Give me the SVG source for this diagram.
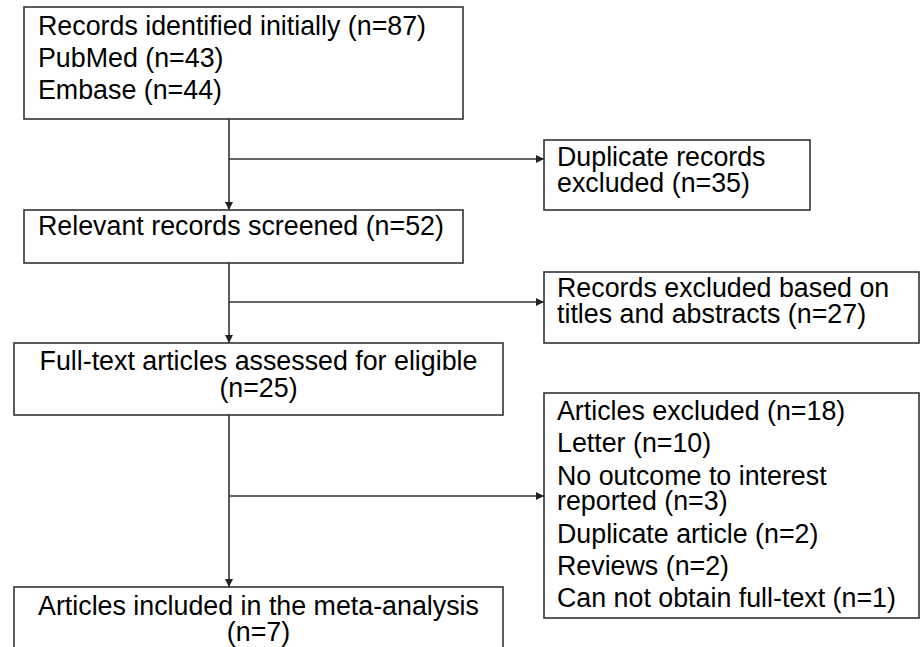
<svg xmlns="http://www.w3.org/2000/svg" width="920" height="647" viewBox="0 0 920 647">
<style>
.box{fill:#fff;stroke:#333;stroke-width:1.6}
.ln{fill:none;stroke:#333;stroke-width:1.6}
text{font-family:"Liberation Sans",Arial,sans-serif;font-size:26.8px;fill:#000}
.c{text-anchor:middle}
</style>
<defs>
<marker id="ah" viewBox="0 0 10 10" refX="10" refY="5" markerWidth="8" markerHeight="8" markerUnits="userSpaceOnUse" orient="auto">
<path d="M0,0 L10,5 L0,10 Z" fill="#222"/>
</marker>
</defs>
<rect width="920" height="647" fill="#fff"/>
<g id="connectors">
<line class="ln" x1="229" y1="119" x2="229" y2="210" marker-end="url(#ah)"/>
<line class="ln" x1="229" y1="159" x2="544" y2="159" marker-end="url(#ah)"/>
<line class="ln" x1="229" y1="263" x2="229" y2="343" marker-end="url(#ah)"/>
<line class="ln" x1="229" y1="302" x2="544" y2="302" marker-end="url(#ah)"/>
<line class="ln" x1="229" y1="415" x2="229" y2="587" marker-end="url(#ah)"/>
<line class="ln" x1="229" y1="496" x2="544" y2="496" marker-end="url(#ah)"/>
</g>
<g id="n1">
<rect class="box" x="24" y="7" width="439" height="112"/>
<text x="38" y="35">Records identified initially (n=87)</text>
<text x="38" y="67">PubMed (n=43)</text>
<text x="38" y="99">Embase (n=44)</text>
</g>
<g id="n2">
<rect class="box" x="544" y="140" width="266" height="70"/>
<text x="557" y="166">Duplicate records</text>
<text x="557" y="192">excluded (n=35)</text>
</g>
<g id="n3">
<rect class="box" x="24" y="210" width="439" height="53"/>
<text x="38" y="235">Relevant records screened (n=52)</text>
</g>
<g id="n4">
<rect class="box" x="544" y="272" width="375" height="71"/>
<text x="557" y="297">Records excluded based on</text>
<text x="557" y="323">titles and abstracts (n=27)</text>
</g>
<g id="n5">
<rect class="box" x="14" y="343" width="489" height="72"/>
<text class="c" x="258.5" y="370">Full-text articles assessed for eligible</text>
<text class="c" x="258.5" y="397">(n=25)</text>
</g>
<g id="n6">
<rect class="box" x="544" y="393" width="375" height="225"/>
<text x="557" y="420">Articles excluded (n=18)</text>
<text x="557" y="452">Letter (n=10)</text>
<text x="557" y="485">No outcome to interest</text>
<text x="557" y="510">reported (n=3)</text>
<text x="557" y="543">Duplicate article (n=2)</text>
<text x="557" y="575">Reviews (n=2)</text>
<text x="557" y="607">Can not obtain full-text (n=1)</text>
</g>
<g id="n7">
<rect class="box" x="14" y="587" width="489" height="80"/>
<text class="c" x="258.5" y="615">Articles included in the meta-analysis</text>
<text class="c" x="258.5" y="641">(n=7)</text>
</g>
</svg>
